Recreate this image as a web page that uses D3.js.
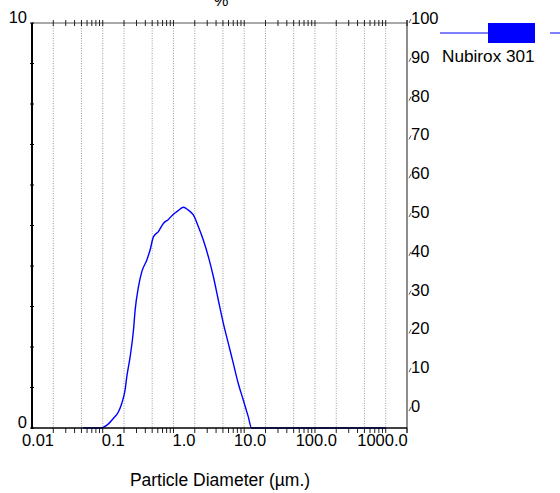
<!DOCTYPE html>
<html><head><meta charset="utf-8">
<script src="https://cdn.jsdelivr.net/npm/d3@7"></script>
<style>body{margin:0;background:#fff}svg{display:block;font-family:"Liberation Sans",Arial,sans-serif}</style>
</head><body><svg id="c" width="560" height="493"></svg>
<script>
// Data
const diameters = [0.053,0.095,0.1145,0.142,0.167,0.186,0.207,0.219,0.244,0.272,0.287,0.320,0.357,0.420,0.468,0.520,0.612,0.719,0.847,1.0,1.17,1.38,1.62,1.91,2.25,2.64,3.11,3.66,4.30,5.06,5.96,7.00,8.24,9.70,11.4,12.7,20,50,100,200,500,1000];
const volumes   = [0,0,0.07,0.24,0.40,0.61,0.94,1.27,1.76,2.42,2.91,3.49,3.86,4.15,4.40,4.72,4.85,5.05,5.15,5.28,5.37,5.45,5.38,5.26,4.97,4.64,4.23,3.74,3.16,2.59,2.09,1.60,1.10,0.69,0.28,0,0,0,0,0,0,0];
const xTickLabels = ["0.01","0.1","1.0","10.0","100.0","1000.0"];
const xTickValues = [0.01,0.1,1,10,100,1000];
const gridValues = [0.02,0.05,0.1,0.2,0.5,1,2,5,10,20,50,100,200,500,1000];
const leftTicks = [0,1,2,3,4,5,6,7,8,9,10];
const leftLabels = [0,10];
const rightTicks = [0,10,20,30,40,50,60,70,80,90,100];
const seriesName = "Nubirox 301";
const xTitle = "Particle Diameter (µm.)";
const topTitle = "%";

const svg = d3.select("#c");
const L = 32, R = 407, T = 23, B = 428;
const x = d3.scaleLog().domain([0.01, 2000]).range([L, R]);
const y = d3.scaleLinear().domain([0, 10]).range([B, T]);
const yR = d3.scaleLinear().domain([0, 100]).range([412, 24]);

// minor ticks values
const minor = [];
for (let e = -2; e <= 3; e++) for (let m = 1; m <= 9; m++) { const v = m * Math.pow(10, e); if (v > 0.01 && v <= 2000) minor.push(v); }
minor.push(2000);

// gridlines
svg.append("g").selectAll("line").data(gridValues).join("line")
  .attr("x1", d => x(d)).attr("x2", d => x(d)).attr("y1", T).attr("y2", B)
  .attr("stroke", "#9a9a9a").attr("stroke-width", 1).attr("stroke-dasharray", "1,1.5");

// top axis
svg.append("line").attr("x1", L).attr("x2", R).attr("y1", T).attr("y2", T).attr("stroke", "#555").attr("stroke-width", 1);
svg.append("g").selectAll("line").data(minor).join("line")
  .attr("x1", d => x(d)).attr("x2", d => x(d)).attr("y1", T - 3).attr("y2", T + 3)
  .attr("stroke", "#222").attr("stroke-width", 1);

// bottom axis
svg.append("g").selectAll("line").data(minor).join("line")
  .attr("x1", d => x(d)).attr("x2", d => x(d)).attr("y1", B).attr("y2", B + 5)
  .attr("stroke", "#222").attr("stroke-width", 1);
svg.append("g").selectAll("text").data(xTickValues).join("text")
  .attr("x", d => x(d) + 22).attr("y", 446).attr("text-anchor", "end")
  .attr("font-size", 16.5).attr("fill", "#000").text((d, i) => xTickLabels[i]);

// right axis
svg.append("line").attr("x1", R).attr("x2", R).attr("y1", T).attr("y2", B).attr("stroke", "#444").attr("stroke-width", 1.2);
svg.append("g").selectAll("line").data(rightTicks).join("line")
  .attr("x1", R + 2).attr("x2", R + 4).attr("y1", d => yR(d) - 1).attr("y2", d => yR(d) - 5)
  .attr("stroke", "#555").attr("stroke-width", 1);
svg.append("g").selectAll("text").data(rightTicks).join("text")
  .attr("x", R + 4).attr("y", d => yR(d)).attr("font-size", 16.5).attr("fill", "#000").text(d => d);

// curve
const line = d3.line().x((d, i) => x(diameters[i])).y(d => y(d)).curve(d3.curveMonotoneX);
svg.append("path").datum(volumes).attr("d", line)
  .attr("fill", "none").attr("stroke", "#0000ff").attr("stroke-width", 1.4);

// bottom axis line
svg.append("line").attr("x1", L).attr("x2", R).attr("y1", B).attr("y2", B).attr("stroke", "#000").attr("stroke-width", 1.5);

// left axis
svg.append("line").attr("x1", L).attr("x2", L).attr("y1", T).attr("y2", B + 1).attr("stroke", "#000").attr("stroke-width", 2);
svg.append("g").selectAll("line").data(leftTicks).join("line")
  .attr("x1", L - 2).attr("x2", L + 2).attr("y1", d => y(d)).attr("y2", d => y(d))
  .attr("stroke", "#000").attr("stroke-width", 1);
svg.append("g").selectAll("text").data(leftLabels).join("text")
  .attr("x", 27).attr("y", d => y(d)).attr("text-anchor", "end")
  .attr("font-size", 16.5).attr("fill", "#000").text(d => d);

// titles
svg.append("text").attr("x", 221).attr("y", 6).attr("text-anchor", "middle").attr("font-size", 16.5).text(topTitle);
svg.append("text").attr("x", 220).attr("y", 486).attr("text-anchor", "middle").attr("font-size", 17.5).text(xTitle);

// legend
const lg = svg.append("g");
lg.append("line").attr("x1", 440).attr("x2", 488).attr("y1", 33).attr("y2", 33).attr("stroke", "#0000ff").attr("stroke-width", 1);
lg.append("rect").attr("x", 488).attr("y", 23).attr("width", 47).attr("height", 20).attr("fill", "#0000ff");
lg.append("line").attr("x1", 550).attr("x2", 560).attr("y1", 33).attr("y2", 33).attr("stroke", "#0000ff").attr("stroke-width", 1);
lg.append("text").attr("x", 442).attr("y", 62).attr("font-size", 17.2).text(seriesName);
</script></body></html>
